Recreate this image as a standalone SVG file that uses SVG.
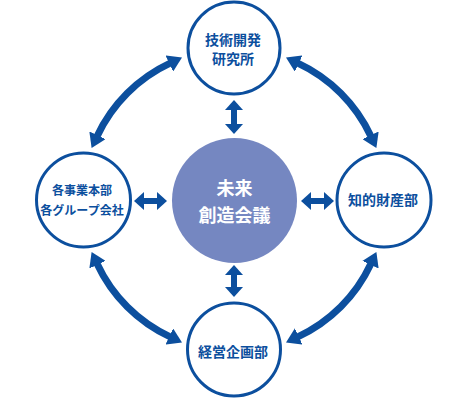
<svg xmlns="http://www.w3.org/2000/svg" width="468" height="400" viewBox="0 0 468 400">
<style>
.node{fill:#fff;stroke:#0c4f9e;stroke-width:3}
.lbl{font-family:"Noto Sans CJK JP","Noto Sans",sans-serif;font-weight:bold;fill:#0c4f9e;text-anchor:middle}
.clbl{font-family:"Noto Sans CJK JP","Noto Sans",sans-serif;font-weight:bold;fill:#fff;text-anchor:middle;font-size:18px}
.arc{fill:none;stroke:#0c4f9e;stroke-width:7;marker-start:url(#big);marker-end:url(#big)}
.st{fill:none;stroke:#0c4f9e;stroke-width:6;marker-start:url(#sm);marker-end:url(#sm)}
</style>
<defs>
<marker id="big" markerUnits="userSpaceOnUse" viewBox="0 0 14 18" markerWidth="14" markerHeight="18" refX="1" refY="9" orient="auto-start-reverse"><path d="M0,0 L14,9 L0,18 Z" fill="#0c4f9e"/></marker>
<marker id="sm" markerUnits="userSpaceOnUse" viewBox="0 0 10 18" markerWidth="10" markerHeight="18" refX="1" refY="9" orient="auto-start-reverse"><path d="M0,0 L10,9 L0,18 Z" fill="#0c4f9e"/></marker>
</defs>
<g id="connectors">
<path class="arc" d="M97.1,136.2 A151,151 0 0 1 170.2,63.1"/>
<path class="arc" d="M297.8,63.1 A151,151 0 0 1 370.9,136.2"/>
<path class="arc" d="M370.9,263.8 A151,151 0 0 1 297.8,336.9"/>
<path class="arc" d="M170.2,336.9 A151,151 0 0 1 97.1,263.8"/>
<path class="st" d="M234,109 L234,125"/>
<path class="st" d="M234,274 L234,288"/>
<path class="st" d="M143,201 L158,201"/>
<path class="st" d="M310,201 L325,201"/>
</g>
<g id="center">
<circle cx="234.5" cy="200.5" r="62.5" fill="#7587c1"/>
<text class="clbl" x="234.5" y="194.5">未来</text>
<text class="clbl" x="234.5" y="221.5">創造会議</text>
</g>
<g id="top">
<circle class="node" cx="234" cy="48" r="46"/>
<text class="lbl" x="233" y="45" font-size="14">技術開発</text>
<text class="lbl" x="233" y="64" font-size="14">研究所</text>
</g>
<g id="left">
<circle class="node" cx="83.5" cy="200" r="47"/>
<text class="lbl" x="82" y="194.5" font-size="12">各事業本部</text>
<text class="lbl" x="82" y="214.5" font-size="12">各グループ会社</text>
</g>
<g id="right">
<circle class="node" cx="384" cy="200" r="47"/>
<text class="lbl" x="383" y="205" font-size="14">知的財産部</text>
</g>
<g id="bottom">
<circle class="node" cx="234" cy="349.5" r="46.5"/>
<text class="lbl" x="233" y="357" font-size="14">経営企画部</text>
</g>
</svg>
